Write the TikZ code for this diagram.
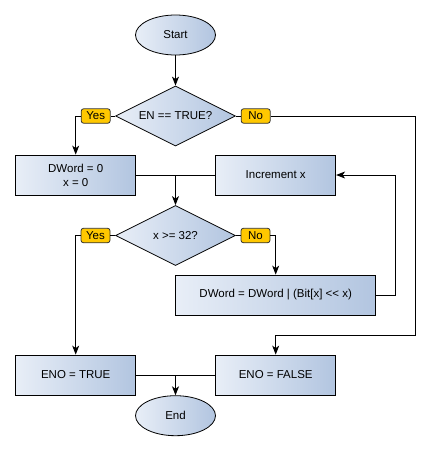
\documentclass[tikz,border=0pt]{standalone}
\usepackage{fontspec}
\setmainfont{Liberation Sans}
\usetikzlibrary{shapes.geometric,arrows.meta}
\definecolor{lightb}{HTML}{E8EEF7}
\definecolor{darkb}{HTML}{B2C5E0}
\definecolor{lblfill}{HTML}{FFC800}
\begin{document}
\begin{tikzpicture}[x=1pt,y=-1pt,
  every node/.style={font=\fontsize{11.5}{14}\selectfont},
  shade/.style={left color=lightb,right color=darkb,draw=black,line width=0.8pt},
  procbox/.style={shade,rectangle,minimum width=120pt,minimum height=40pt,inner sep=0pt,align=center},
  termin/.style={shade,ellipse,minimum width=80pt,minimum height=40pt,inner sep=0pt},
  decis/.style={shade,diamond,minimum width=120pt,minimum height=60pt,inner sep=0pt,aspect=2},
  lbl/.style={fill=lblfill,draw=black!80,rounded corners=2.5pt,minimum width=29pt,minimum height=14.5pt,inner sep=0pt,line width=0.8pt},
  conn/.style={draw=black,line width=0.8pt},
  arr/.style={conn,-{Stealth[length=9pt,width=7pt,inset=2.5pt]}}]
\useasboundingbox (0,0) rectangle (430,450);
\node[termin] (start) at (175.5,35) {Start};
\node[decis] (en) at (175.5,116) {EN == TRUE?};
\node[lbl] (yes1) at (95.7,116) {Yes};
\node[lbl] (no1) at (255.7,116) {No};
\node[procbox] (init) at (75.7,175) {DWord = 0\\x = 0};
\node[procbox] (inc) at (275.7,175) {Increment x};
\node[decis] (cmp) at (175.5,235.5) {x >= 32?};
\node[lbl] (yes2) at (95.5,235.5) {Yes};
\node[lbl] (no2) at (255.5,235.5) {No};
\node[procbox,minimum width=200pt] (upd) at (275.7,295) {DWord = DWord | (Bit[x] <\kern0pt< x)};
\node[procbox] (enot) at (75.7,375) {ENO = TRUE};
\node[procbox] (enof) at (275.7,375) {ENO = FALSE};
\node[termin] (end) at (175.5,415.7) {End};
\coordinate (j1) at (175.5,175);
\coordinate (j2) at (175.5,375);

\draw[arr] (start) -- (en);
\draw[conn] (en.west) -- (yes1.east);
\draw[conn] (en.east) -- (no1.west);
\draw[arr] (yes1.west) -- (75.7,116) -- (init.north);
\draw[conn] (init.east) -- (j1);
\draw[conn] (inc.west) -- (j1);
\draw[arr] (j1) -- (cmp.north);
\draw[conn] (cmp.west) -- (yes2.east);
\draw[conn] (cmp.east) -- (no2.west);
\draw[arr] (no2.east) -- (275.7,235.5) -- (upd.north);
\draw[arr] (upd.east) -- (395.7,295) -- (395.7,175) -- (inc.east);
\draw[arr] (yes2.west) -- (75.7,235.5) -- (enot.north);
\draw[arr] (no1.east) -- (415,116) -- (415,335) -- (275.7,335) -- (enof.north);
\draw[conn] (enot.east) -- (j2);
\draw[conn] (enof.west) -- (j2);
\draw[arr] (j2) -- (end.north);
\end{tikzpicture}
\end{document}
